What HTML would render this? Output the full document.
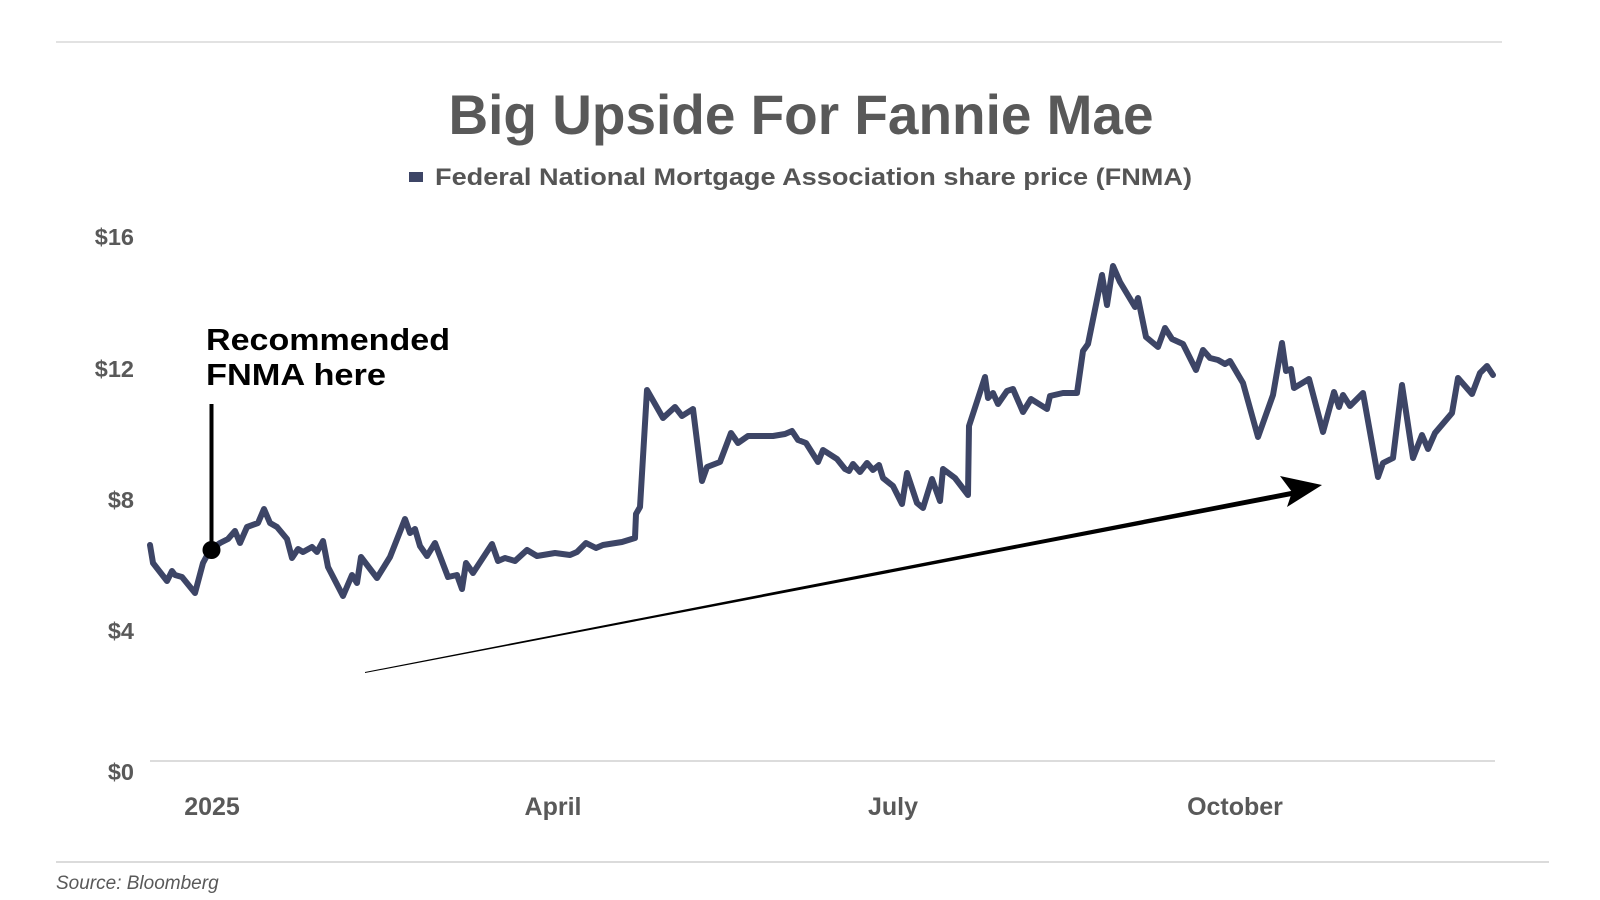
<!DOCTYPE html>
<html><head><meta charset="utf-8"><style>
html,body{margin:0;padding:0;background:#fff;}
svg{display:block;}
text{font-family:"Liberation Sans",sans-serif;font-weight:bold;}
</style></head><body>
<svg width="1600" height="900" viewBox="0 0 1600 900" xmlns="http://www.w3.org/2000/svg">
<line x1="56" y1="42" x2="1502" y2="42" stroke="#d9d9d9" stroke-width="1.5"/>
<text x="801" y="134" text-anchor="middle" font-size="56" fill="#595959" textLength="705" lengthAdjust="spacingAndGlyphs">Big Upside For Fannie Mae</text>
<rect x="409" y="172" width="14" height="10" fill="#3d4566"/>
<text x="435" y="185" font-size="24" fill="#555" textLength="757" lengthAdjust="spacingAndGlyphs">Federal National Mortgage Association share price (FNMA)</text>
<g font-size="23.5" fill="#595959" text-anchor="end">
<text x="134" y="245">$16</text>
<text x="134" y="377">$12</text>
<text x="134" y="508">$8</text>
<text x="134" y="639">$4</text>
<text x="134" y="780">$0</text>
</g>
<line x1="150" y1="761" x2="1495" y2="761" stroke="#dcdcdc" stroke-width="2"/>
<g font-size="25" fill="#595959" text-anchor="middle">
<text x="212" y="815">2025</text>
<text x="553" y="815">April</text>
<text x="893" y="815">July</text>
<text x="1235" y="815">October</text>
</g>
<polyline fill="none" stroke="#3d4566" stroke-width="6" stroke-linejoin="round" stroke-linecap="round" points="150,545 153,563 167,581 172,571 175,575 182,577 195,593 203,563 210,550 220,543 228,539 235,531 240,543 247,527 258,523 264,509 270,523 277,527 287,539 292,558 298,549 303,552 312,547 317,552 323,541 328,567 343,596 352,575 357,583 361,557 377,578 390,557 405,519 410,533 415,529 420,546 427,556 435,543 448,577 457,575 462,589 466,563 473,573 492,544 498,561 505,558 515,561 527,550 537,556 555,553 570,555 577,552 586,543 596,548 603,545 622,542 635,538 636,514 640,507 647,390 663,418 675,407 682,416 693,409 702,481 707,467 720,462 731,433 738,443 748,436 773,436 785,434 792,431 798,440 806,443 818,462 823,450 837,459 845,469 849,471 853,464 860,472 867,463 873,470 879,465 883,478 893,486 902,504 907,473 917,503 923,508 932,479 940,501 943,469 955,478 968,495 969,426 985,377 988,398 993,393 998,404 1007,391 1013,389 1023,412 1031,399 1047,409 1050,396 1063,393 1077,393 1083,351 1088,344 1102,275 1107,305 1113,266 1120,282 1135,307 1138,298 1146,337 1158,347 1165,328 1172,339 1183,344 1196,370 1203,350 1210,358 1218,360 1225,364 1230,361 1243,383 1258,437 1273,395 1282,343 1286,371 1291,369 1294,388 1309,379 1323,432 1334,392 1339,407 1343,395 1350,406 1363,393 1378,477 1383,463 1393,458 1402,385 1413,458 1422,435 1428,449 1435,433 1452,413 1458,378 1472,394 1480,373 1487,366 1493,375"/>
<line x1="211.5" y1="404" x2="211.5" y2="550" stroke="#000" stroke-width="4"/>
<circle cx="211.5" cy="550" r="9" fill="#000"/>
<text x="206" y="350" font-size="31" fill="#000" textLength="244" lengthAdjust="spacingAndGlyphs">Recommended</text>
<text x="206" y="385" font-size="31" fill="#000" textLength="180" lengthAdjust="spacingAndGlyphs">FNMA here</text>
<polygon points="365,672 1296,490 1297,495 365,673" fill="#000"/>
<polygon points="1322,485 1280,476 1292,492 1287,507" fill="#000"/>
<line x1="56" y1="862" x2="1549" y2="862" stroke="#cfcfcf" stroke-width="1.5"/>
<text x="56" y="889" font-size="19" font-style="italic" fill="#595959" style="font-weight:normal">Source: Bloomberg</text>
</svg>
</body></html>
